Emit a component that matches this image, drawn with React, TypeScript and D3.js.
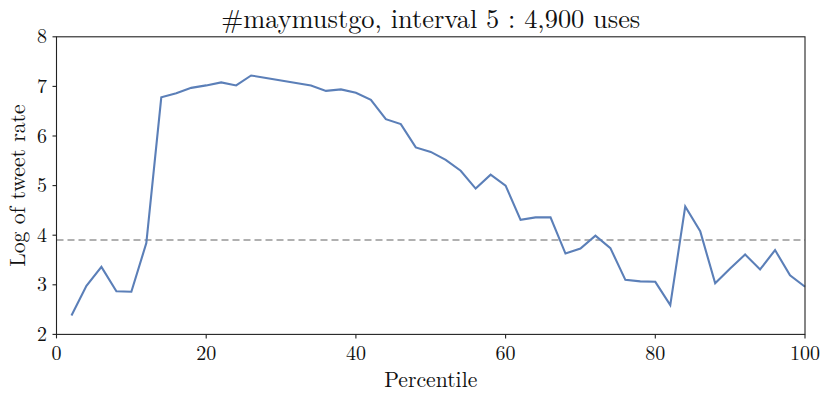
import React from "react";
import * as d3 from "d3";

const percentiles: number[] = [
  2, 4, 6, 8, 10, 12, 14, 16, 18, 20, 22, 24, 26, 28, 30, 32, 34, 36, 38, 40,
  42, 44, 46, 48, 50, 52, 54, 56, 58, 60, 62, 64, 66, 68, 70, 72, 74, 76, 78, 80,
  82, 84, 86, 88, 90, 92, 94, 96, 98, 100,
];
const logRate: number[] = [
  2.38, 2.98, 3.36, 2.87, 2.86, 3.84, 6.78, 6.86, 6.97, 7.02, 7.08, 7.02, 7.22, 7.17, 7.12, 7.07, 7.02, 6.91, 6.94, 6.87,
  6.73, 6.34, 6.24, 5.77, 5.68, 5.52, 5.3, 4.94, 5.22, 5.0, 4.31, 4.36, 4.36, 3.63, 3.73, 3.99, 3.74, 3.1, 3.07, 3.06,
  2.59, 4.58, 4.08, 3.03, 3.33, 3.61, 3.31, 3.7, 3.19, 2.96,
];
const baseline = 3.905;
const xTicks: number[] = [0, 20, 40, 60, 80, 100];
const yTicks: number[] = [2, 3, 4, 5, 6, 7, 8];
const title = "#maymustgo, interval 5 : 4,900 uses";
const xLabel = "Percentile";
const yLabel = "Log of tweet rate";

const W = 830;
const H = 402;
const left = 56.5;
const right = 805;
const top = 36.8;
const bottom = 334.4;
const font = "Latin Modern Roman";

export default function App() {
  const x = d3.scaleLinear().domain([0, 100]).range([left, right]);
  const y = d3.scaleLinear().domain([2, 8]).range([bottom, top]);
  const data = percentiles.map((p, i) => [p, logRate[i]] as [number, number]);
  const line = d3
    .line<[number, number]>()
    .x((d) => x(d[0]))
    .y((d) => y(d[1]));

  return (
    <svg
      width={W}
      height={H}
      style={{ position: "absolute", left: 0, top: 0, background: "#fff" }}
    >
      <rect x={0} y={0} width={W} height={H} fill="#fff" />
      <line
        x1={left}
        x2={right}
        y1={y(baseline)}
        y2={y(baseline)}
        stroke="#b0b0b0"
        strokeWidth={2}
        strokeDasharray="7,4"
      />
      <path d={line(data) || ""} fill="none" stroke="#5b7fb8" strokeWidth={2.1} />
      <rect
        x={left}
        y={top}
        width={right - left}
        height={bottom - top}
        fill="none"
        stroke="#222"
        strokeWidth={1.1}
      />
      {xTicks.map((t) => (
        <g key={"x" + t}>
          <line x1={x(t)} x2={x(t)} y1={bottom} y2={bottom + 4} stroke="#222" strokeWidth={1.1} />
          <text x={x(t)} y={bottom + 26} textAnchor="middle" fontFamily={font} fontSize={20} fill="#111">
            {t}
          </text>
        </g>
      ))}
      {yTicks.map((t) => (
        <g key={"y" + t}>
          <line x1={left - 4} x2={left} y1={y(t)} y2={y(t)} stroke="#222" strokeWidth={1.1} />
          <text x={left - 9.5} y={y(t) + 6.5} textAnchor="end" fontFamily={font} fontSize={20} fill="#111">
            {t}
          </text>
        </g>
      ))}
      <text x={(left + right) / 2} y={387} textAnchor="middle" fontFamily={font} fontSize={21.7} fill="#111">
        {xLabel}
      </text>
      <text
        transform={`translate(25,${(top + bottom) / 2}) rotate(-90)`}
        textAnchor="middle"
        fontFamily={font}
        fontSize={21.7}
        fill="#111"
      >
        {yLabel}
      </text>
      <text x={(left + right) / 2} y={28} textAnchor="middle" fontFamily={font} fontSize={26.4} fill="#111">
        {title}
      </text>
    </svg>
  );
}
